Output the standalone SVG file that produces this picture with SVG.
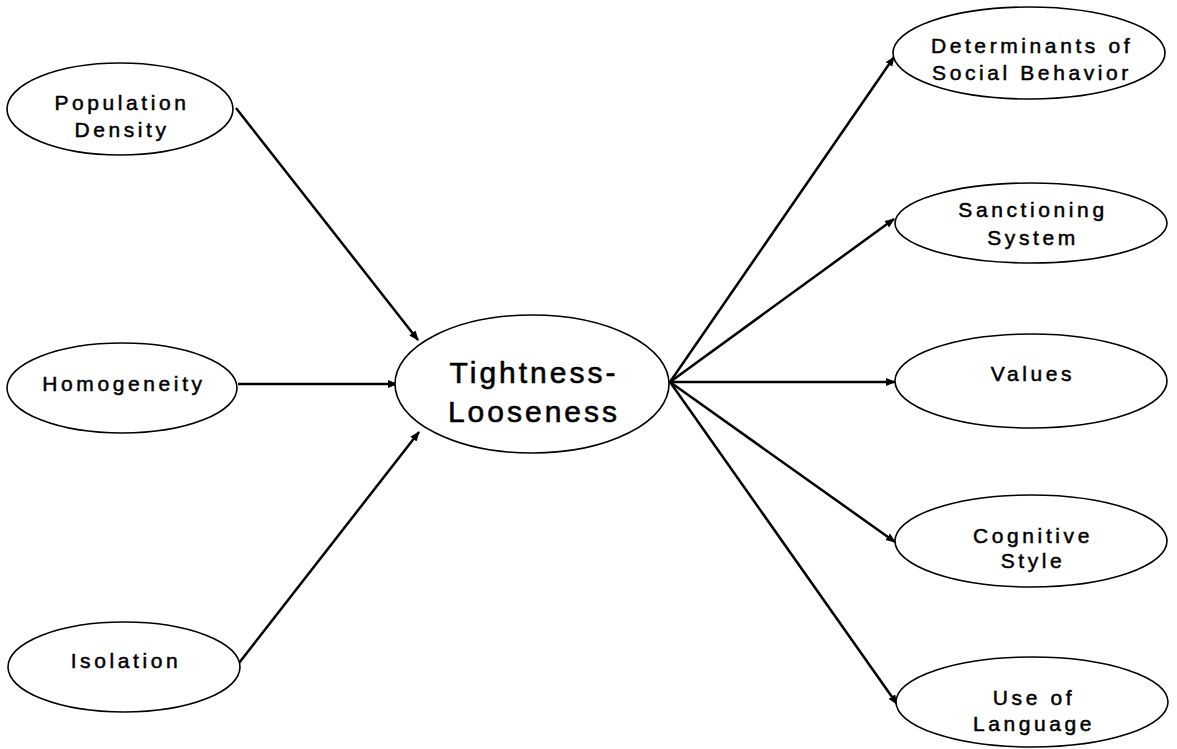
<svg xmlns="http://www.w3.org/2000/svg" width="1177" height="749" viewBox="0 0 1177 749">
<defs>
<marker id="ah" viewBox="0 0 10 10" refX="9" refY="5" markerWidth="4" markerHeight="4" orient="auto" markerUnits="strokeWidth">
<path d="M0,1 L10,5 L0,9 z" fill="#000"/>
</marker>
<style>
.n ellipse{fill:#fff;stroke:#000;stroke-width:1.6}
.n text{font-family:"Liberation Sans",Arial,sans-serif;font-size:21px;letter-spacing:3.6px;text-anchor:middle;fill:#000;stroke:#000;stroke-width:0.5}
#center text{font-size:30px;letter-spacing:3px;stroke-width:0.6}
.c line{stroke:#000;stroke-width:2.5;marker-end:url(#ah)}
</style>
</defs>
<rect width="1177" height="749" fill="#fff"/>
<g class="c" id="connectors">
<line x1="236" y1="108" x2="418" y2="340"/>
<line x1="238" y1="384" x2="397" y2="384"/>
<line x1="239" y1="663" x2="419" y2="432"/>
<line x1="670" y1="382" x2="894" y2="57"/>
<line x1="670" y1="382" x2="894" y2="219"/>
<line x1="670" y1="382" x2="895" y2="382"/>
<line x1="670" y1="382" x2="895" y2="542"/>
<line x1="670" y1="382" x2="897" y2="704"/>
</g>
<g class="n" id="population">
<ellipse cx="120" cy="109" rx="113" ry="46"/>
<text x="122" y="110">Population</text>
<text x="122" y="137">Density</text>
</g>
<g class="n" id="homogeneity">
<ellipse cx="122" cy="388" rx="115" ry="45"/>
<text x="124" y="391">Homogeneity</text>
</g>
<g class="n" id="isolation">
<ellipse cx="124" cy="667" rx="116" ry="45"/>
<text x="126" y="668">Isolation</text>
</g>
<g class="n" id="center">
<ellipse cx="532" cy="384" rx="137" ry="69"/>
<text x="534" y="383">Tightness-</text>
<text x="534" y="422">Looseness</text>
</g>
<g class="n" id="determinants">
<ellipse cx="1029" cy="53" rx="136" ry="46"/>
<text x="1032" y="53">Determinants of</text>
<text x="1032" y="80">Social Behavior</text>
</g>
<g class="n" id="sanctioning">
<ellipse cx="1031" cy="223" rx="136" ry="40"/>
<text x="1033" y="217">Sanctioning</text>
<text x="1033" y="245">System</text>
</g>
<g class="n" id="values">
<ellipse cx="1031" cy="381" rx="136" ry="47"/>
<text x="1033" y="381">Values</text>
</g>
<g class="n" id="cognitive">
<ellipse cx="1031" cy="541" rx="136" ry="46"/>
<text x="1033" y="543">Cognitive</text>
<text x="1033" y="568">Style</text>
</g>
<g class="n" id="language">
<ellipse cx="1032" cy="702" rx="136" ry="45"/>
<text x="1034" y="705">Use of</text>
<text x="1034" y="731">Language</text>
</g>
</svg>
